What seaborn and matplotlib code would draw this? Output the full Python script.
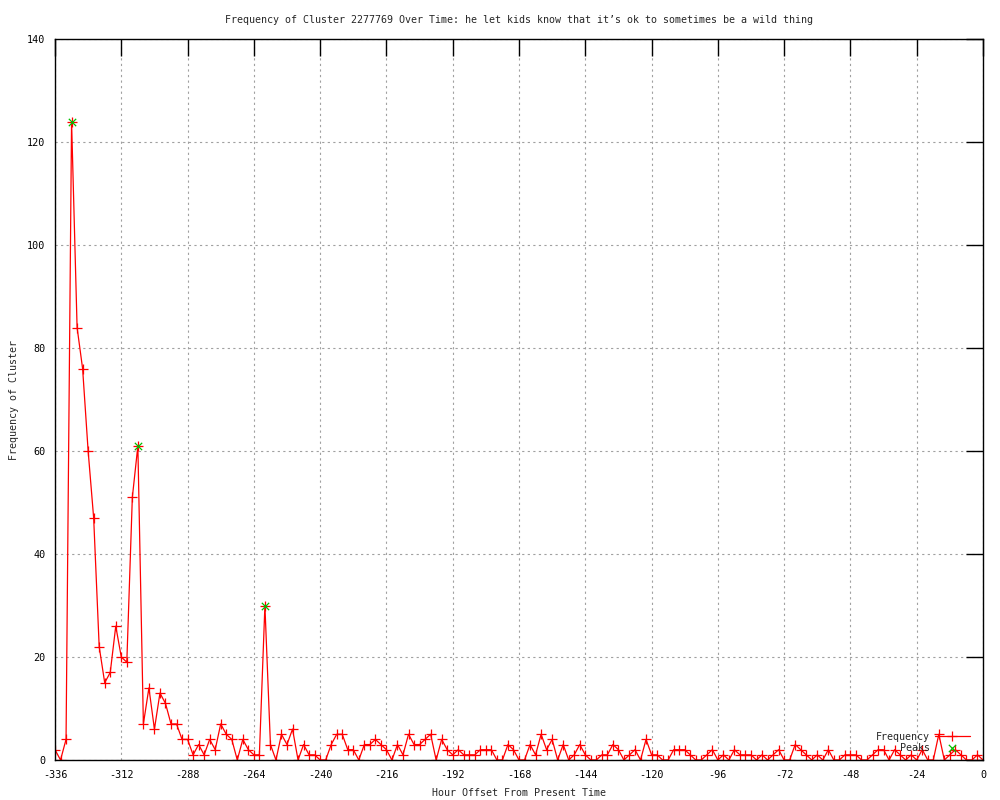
import numpy as np
import pandas as pd
import matplotlib
matplotlib.use("Agg")
import matplotlib.pyplot as plt
import seaborn as sns

# data (one point every 2 hours)
hours = list(range(-336, 1, 2))
frequency = [
    2, 0, 4, 124, 84, 76, 60, 47, 22, 15, 17, 26,   # -336 .. -314
    20, 19, 51, 61, 7, 14, 6, 13, 11, 7, 7, 4,      # -312 .. -290
    4, 1, 3, 1, 4, 2, 7, 5, 4, 0, 4, 2,             # -288 .. -266
    1, 1, 30, 3, 0, 5, 3, 6, 0, 3, 1, 1,            # -264 .. -242
    0, 0, 3, 5, 5, 2, 2, 0, 3, 3, 4, 3,             # -240 .. -218
    2, 0, 3, 1, 5, 3, 3, 4, 5, 0, 4, 2,             # -216 .. -194
    1, 2, 1, 1, 1, 2, 2, 2, 0, 0, 3, 2,             # -192 .. -170
    0, 0, 3, 1, 5, 2, 4, 0, 3, 0, 1, 3,             # -168 .. -146
    1, 0, 0, 1, 1, 3, 2, 0, 1, 2, 0, 4,             # -144 .. -122
    1, 1, 0, 0, 2, 2, 2, 1, 0, 0, 1, 2,             # -120 .. -98
    0, 1, 0, 2, 1, 1, 1, 0, 1, 0, 1, 2,             # -96 .. -74
    0, 0, 3, 2, 1, 0, 1, 0, 2, 0, 0, 1,             # -72 .. -50
    1, 1, 0, 0, 1, 2, 2, 0, 2, 1, 0, 1,             # -48 .. -26
    0, 2, 0, 0, 5, 0, 1, 2, 1, 0, 0, 1,             # -24 .. -2
    0,                                              # 0
]
peak_hours = [-330, -306, -260]
peak_values = [124, 61, 30]

x_ticks = list(range(-336, 1, 24))
y_ticks = list(range(0, 141, 20))

sns.set_style("white")
plt.rcParams['font.family'] = ['DejaVu Sans Mono', 'DejaVu Sans']
plt.rcParams['axes.unicode_minus'] = False

df = pd.DataFrame({'hour': hours, 'frequency': frequency})
peaks = pd.DataFrame({'hour': peak_hours, 'frequency': peak_values})

fig, ax = plt.subplots(figsize=(10, 8), dpi=100)
fig.subplots_adjust(left=0.055, right=0.983, top=0.951, bottom=0.05)

sns.lineplot(data=df, x='hour', y='frequency', color='red', lw=0.9,
             marker='+', markersize=7, markeredgewidth=0.9,
             markeredgecolor='red', ax=ax, label='Frequency', zorder=2)
sns.scatterplot(data=peaks, x='hour', y='frequency', color='#00c000',
                marker='x', s=28, linewidth=0.9, ax=ax, label='Peaks', zorder=3)

ax.set_xlim(-336, 0)
ax.set_ylim(0, 140)
ax.set_xticks(x_ticks)
ax.set_yticks(y_ticks)
ax.grid(True, linestyle=(0, (2, 3)), color='#a0a0a0', lw=0.8)
ax.tick_params(direction='in', length=12, width=1, top=True, right=True,
               labelsize=7.3, pad=7, colors='black')
for s in ax.spines.values():
    s.set_color('black')
    s.set_linewidth(1)

ax.set_title("Frequency of Cluster 2277769 Over Time: he let kids know that it\u2019s ok to sometimes be a wild thing",
             fontsize=7.2, pad=12)
ax.set_xlabel('Hour Offset From Present Time', fontsize=7.2, labelpad=6)
ax.set_ylabel('Frequency of Cluster', fontsize=7.2, labelpad=6)

ax.legend(loc='lower right', bbox_to_anchor=(0.993, 0.0), frameon=False,
          markerfirst=False, fontsize=7.2, handlelength=3.5, handletextpad=0.5,
          labelspacing=0.15, borderpad=0.2)

plt.savefig('out.png', dpi=100)
